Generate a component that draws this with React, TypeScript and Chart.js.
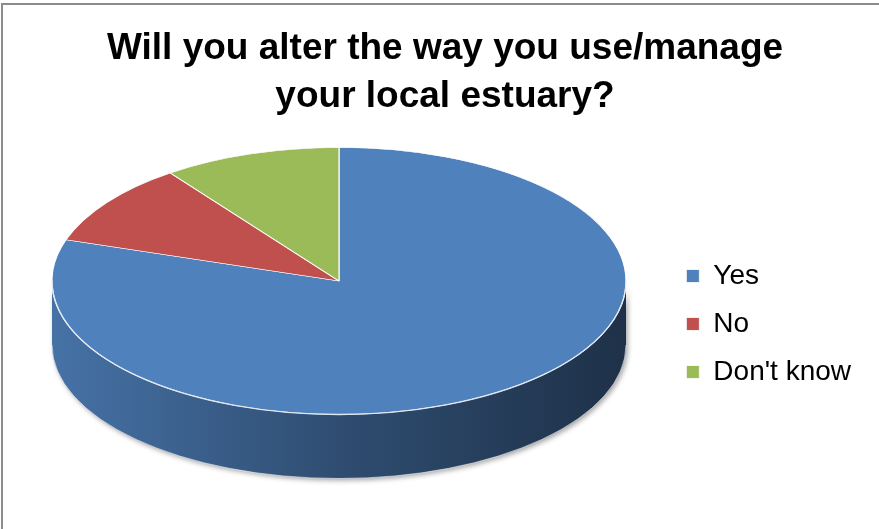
import React, { useEffect, useRef } from "react";
import { Chart, registerables } from "chart.js";

Chart.register(...registerables);

const TITLE_LINES = ["Will you alter the way you use/manage", "your local estuary?"];
const CATEGORIES = ["Yes", "No", "Don't know"];
const VALUES = [80, 10, 10];
const COLORS = ["#4F81BD", "#C0504D", "#9BBB59"];

const FONT = "Arial, 'Liberation Sans', Helvetica, sans-serif";
// geometry of the tilted (3D-looking) pie
const PIE = { cx: 339, cy: 281, rx: 287, ry: 133.5, depth: 64 };

function shade(hex: string, f: number): string {
  const h = hex.replace("#", "");
  const r = Math.round(parseInt(h.slice(0, 2), 16) * f);
  const g = Math.round(parseInt(h.slice(2, 4), 16) * f);
  const b = Math.round(parseInt(h.slice(4, 6), 16) * f);
  return `rgb(${r},${g},${b})`;
}

const pie3d = {
  id: "pie3d",
  beforeDraw(chart: any) {
    const ctx = chart.ctx;
    ctx.save();
    ctx.strokeStyle = "#8c8c8c";
    ctx.lineWidth = 2;
    ctx.beginPath();
    ctx.moveTo(2, chart.height + 5);
    ctx.lineTo(2, 4);
    ctx.lineTo(chart.width + 5, 4);
    ctx.stroke();
    ctx.restore();
  },
  beforeDatasetsDraw(chart: any) {
    const ctx = chart.ctx;
    const meta = chart.getDatasetMeta(0);
    const arcs = meta.data;
    if (!arcs.length) return;
    const { cx, cy, rx, ry, depth } = PIE;
    ctx.save();
    arcs.forEach((arc: any, i: number) => {
      const { startAngle, endAngle } = arc.getProps(["startAngle", "endAngle"], true);
      const color = COLORS[i % COLORS.length];
      for (let k = -1; k <= 1; k++) {
        const lo = Math.max(startAngle, 2 * Math.PI * k);
        const hi = Math.min(endAngle, 2 * Math.PI * k + Math.PI);
        if (hi - lo <= 1e-6) continue;
        const g = ctx.createLinearGradient(cx - rx, 0, cx + rx, 0);
        g.addColorStop(0, shade(color, 0.88));
        g.addColorStop(0.5, shade(color, 0.6));
        g.addColorStop(1, shade(color, 0.38));
        ctx.beginPath();
        ctx.ellipse(cx, cy, rx, ry, 0, lo, hi, false);
        ctx.ellipse(cx, cy + depth, rx, ry, 0, hi, lo, true);
        ctx.closePath();
        ctx.shadowColor = "rgba(0,0,0,0.35)";
        ctx.shadowBlur = 5;
        ctx.shadowOffsetX = 2;
        ctx.shadowOffsetY = 2;
        ctx.fillStyle = g;
        ctx.fill();
      }
    });
    ctx.shadowColor = "rgba(0,0,0,0)";
    ctx.beginPath();
    ctx.ellipse(cx, cy + depth, rx, ry, 0, 0, Math.PI, false);
    ctx.strokeStyle = "rgba(255,255,255,0.55)";
    ctx.lineWidth = 1;
    ctx.stroke();
    ctx.restore();

    const { x, y, outerRadius } = arcs[0].getProps(["x", "y", "outerRadius"], true);
    ctx.save();
    ctx.translate(cx, cy);
    ctx.scale(rx / outerRadius, ry / outerRadius);
    ctx.translate(-x, -y);
  },
  afterDatasetsDraw(chart: any) {
    const ctx = chart.ctx;
    const meta = chart.getDatasetMeta(0);
    if (!meta.data.length) return;
    ctx.restore();
    const { cx, cy, rx, ry } = PIE;
    ctx.save();
    ctx.beginPath();
    ctx.ellipse(cx, cy, rx, ry, 0, 0, Math.PI, false);
    ctx.strokeStyle = "rgba(225,232,242,0.95)";
    ctx.lineWidth = 1.3;
    ctx.stroke();
    ctx.restore();
  },
};

export default function App() {
  const ref = useRef<HTMLCanvasElement | null>(null);
  useEffect(() => {
    if (!ref.current) return;
    Chart.defaults.font.family = FONT;
    const chart = new Chart(ref.current, {
      type: "pie",
      data: {
        labels: CATEGORIES,
        datasets: [
          {
            data: VALUES,
            backgroundColor: COLORS,
            borderColor: "#ffffff",
            borderWidth: 0.8,
            clip: false as any,
          },
        ],
      },
      options: {
        responsive: false,
        animation: false,
        events: [],
        layout: { padding: { left: 29, right: 18, top: 0, bottom: 6 } },
        plugins: {
          title: {
            display: true,
            text: TITLE_LINES,
            color: "#000",
            font: { family: FONT, size: 37, weight: "bold", lineHeight: 1.297 },
            padding: { top: 25, bottom: 4 },
          },
          legend: {
            position: "right",
            fullSize: false,
            labels: {
              color: "#000",
              font: { family: FONT, size: 28 },
              boxWidth: 13,
              boxHeight: 13,
              padding: 20,
            },
          },
          tooltip: { enabled: false },
        },
      },
      plugins: [pie3d],
    });
    return () => chart.destroy();
  }, []);
  return (
    <div style={{ position: "fixed", left: 0, top: 0, width: 879, height: 529, background: "#fff" }}>
      <canvas ref={ref} width={879} height={529} style={{ display: "block" }} />
    </div>
  );
}
